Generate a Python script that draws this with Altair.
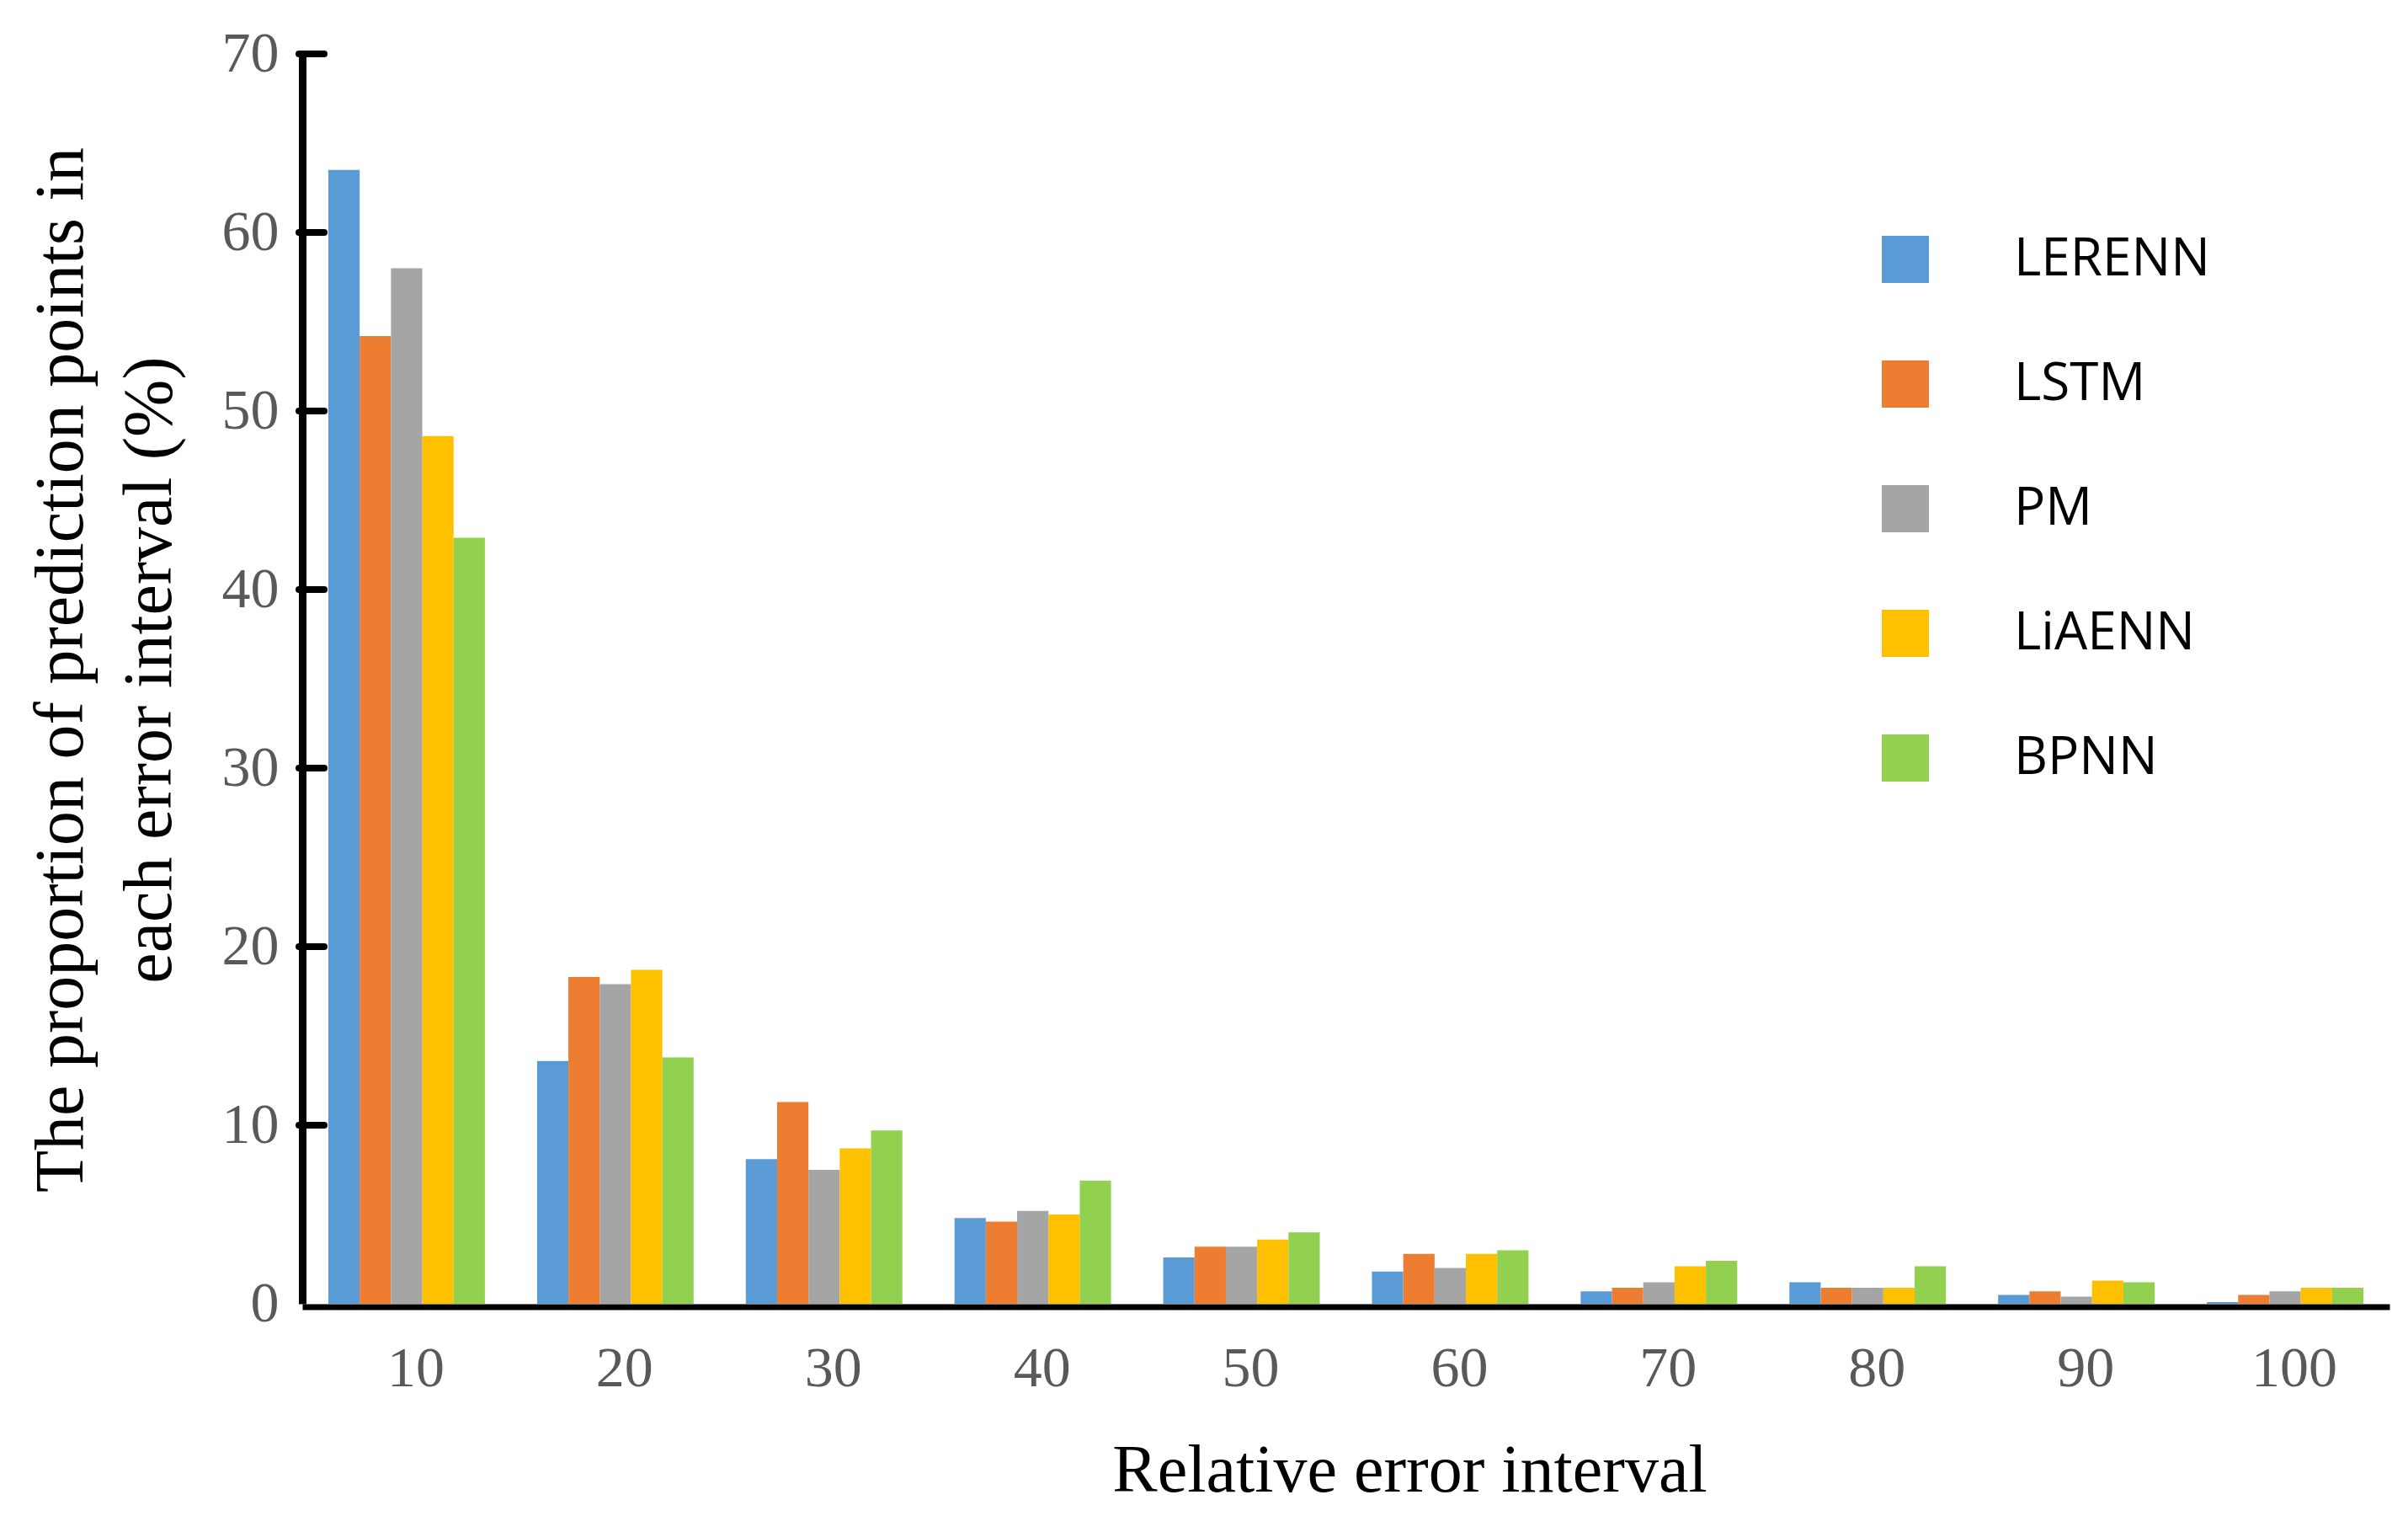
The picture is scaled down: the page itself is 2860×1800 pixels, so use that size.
import altair as alt
import pandas as pd

categories = ["10", "20", "30", "40", "50", "60", "70", "80", "90", "100"]
models = ["LERENN", "LSTM", "PM", "LiAENN", "BPNN"]
colors = ["#5B9BD5", "#ED7D31", "#A5A5A5", "#FFC000", "#92D050"]

LERENN = [63.5, 13.6, 8.1, 4.8, 2.6, 1.8, 0.7, 1.2, 0.5, 0.1]
LSTM = [54.2, 18.3, 11.3, 4.6, 3.2, 2.8, 0.9, 0.9, 0.7, 0.5]
PM = [58.0, 17.9, 7.5, 5.2, 3.2, 2.0, 1.2, 0.9, 0.4, 0.7]
LiAENN = [48.6, 18.7, 8.7, 5.0, 3.6, 2.8, 2.1, 0.9, 1.3, 0.9]
BPNN = [42.9, 13.8, 9.7, 6.9, 4.0, 3.0, 2.4, 2.1, 1.2, 0.9]

y_ticks = [0, 10, 20, 30, 40, 50, 60, 70]

series = [LERENN, LSTM, PM, LiAENN, BPNN]
rows = []
for m, vals in zip(models, series):
    for c, v in zip(categories, vals):
        rows.append({"interval": c, "model": m, "value": v})
df = pd.DataFrame(rows)
ticks_df = pd.DataFrame({"tick": y_ticks[1:]})

serif = "Liberation Serif"

y_axis = alt.Axis(
    values=y_ticks,
    title=["The proportion of prediction points in", "each error interval (%)"],
    titleFont=serif,
    titleFontSize=82,
    titleFontWeight="normal",
    titleColor="black",
    titleAngle=270,
    titleX=-262,
    titleY=731,
    titleAlign="center",
    titleBaseline="alphabetic",
    titleLineHeight=105,
    labelFont=serif,
    labelFontSize=68,
    labelColor="#595959",
    labelPadding=28,
    labelBaseline="middle",
    ticks=False,
    tickSize=0,
    domainColor="black",
    domainWidth=9,
    grid=False,
    zindex=1,
)
y_scale = alt.Scale(domain=[0, 70], nice=False)

bars = alt.Chart(df).mark_bar().encode(
    x=alt.X(
        "interval:N",
        sort=categories,
        scale=alt.Scale(paddingInner=0.25, paddingOuter=0.125),
        axis=alt.Axis(
            title="Relative error interval",
            titleFont=serif,
            titleFontSize=80,
            titleFontWeight="normal",
            titleColor="black",
            titleX=1315,
            titleY=219,
            titleAlign="center",
            titleBaseline="alphabetic",
            labelFont=serif,
            labelFontSize=68,
            labelColor="#595959",
            labelAngle=0,
            labelBaseline="alphabetic",
            labelPadding=94,
            labelOffset=11,
            ticks=False,
            tickSize=0,
            domainColor="black",
            domainWidth=7,
            offset=3.5,
            grid=False,
            zindex=1,
        ),
    ),
    xOffset=alt.XOffset("model:N", sort=models, scale=alt.Scale(paddingInner=0, paddingOuter=0)),
    y=alt.Y("value:Q", scale=y_scale, axis=y_axis),
    color=alt.Color(
        "model:N",
        sort=models,
        scale=alt.Scale(domain=models, range=colors),
        legend=alt.Legend(
            title=None,
            orient="none",
            legendX=1873,
            legendY=213,
            symbolType="square",
            symbolSize=3136,
            symbolStrokeWidth=0,
            symbolOpacity=1,
            labelFont="Open Sans",
            labelFontSize=62,
            labelColor="black",
            labelOffset=98,
            labelLimit=1000,
            rowPadding=86,
            padding=0,
        ),
    ),
)

tick_rules = alt.Chart(ticks_df).mark_rule(color="black", strokeWidth=8, strokeCap="round").encode(
    y=alt.Y("tick:Q", scale=y_scale, axis=y_axis),
    x=alt.value(-4),
    x2=alt.value(26),
)

chart = (
    alt.layer(bars, tick_rules)
    .properties(
        width=2479,
        height=1484,
        autosize=alt.AutoSizeParams(type="none"),
        padding={"left": 351, "top": 56, "right": 14, "bottom": 240},
        background="white",
    )
    .configure_view(stroke=None)
)

chart.save("out.html", embed_options={"renderer": "svg", "actions": False})
